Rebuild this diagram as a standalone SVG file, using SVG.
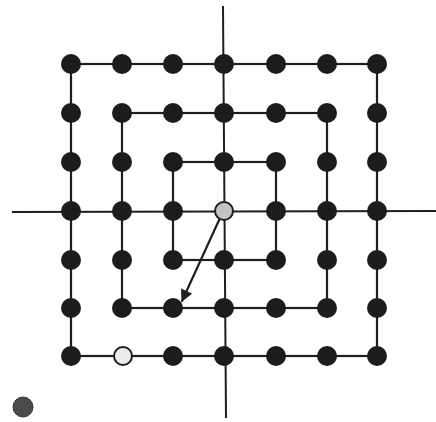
<svg xmlns="http://www.w3.org/2000/svg" width="436" height="422" viewBox="0 0 436 422">
<defs>
<style>
.ln{stroke:#1e1e1e;stroke-width:2.2;fill:none;stroke-linecap:round}
.ax{stroke:#1e1e1e;stroke-width:2;fill:none}
.n{fill:#1c1c1c}
.c{fill:#c4c4c4;stroke:#1e1e1e;stroke-width:2}
.w{fill:#ececec;stroke:#1e1e1e;stroke-width:2}
</style>
<marker id="ah" viewBox="0 0 10 10" refX="9" refY="5" markerWidth="6.5" markerHeight="5.5" orient="auto" markerUnits="strokeWidth">
<path d="M0,0 L10,5 L0,10 z" fill="#1e1e1e"/>
</marker>
</defs>
<rect width="436" height="422" fill="#ffffff"/>
<g id="connectors">
<line class="ax" x1="223" y1="6" x2="226" y2="418"/>
<line class="ax" x1="12" y1="212" x2="436" y2="211"/>
<rect class="ln" x="71" y="64" width="306" height="292"/>
<rect class="ln" x="122" y="113" width="205" height="195"/>
<rect class="ln" x="173" y="162" width="103" height="98"/>
<line class="ln" x1="220" y1="218" x2="182" y2="301" marker-end="url(#ah)"/>
</g>
<g id="nodes">
<g id="r0">
<circle class="n" cx="71" cy="64" r="10"/><circle class="n" cx="122" cy="64" r="10"/><circle class="n" cx="173" cy="64" r="10"/><circle class="n" cx="224" cy="64" r="10"/><circle class="n" cx="276" cy="64" r="10"/><circle class="n" cx="327" cy="64" r="10"/><circle class="n" cx="377" cy="64" r="10"/>
</g>
<g id="r1">
<circle class="n" cx="71" cy="113" r="10"/><circle class="n" cx="122" cy="113" r="10"/><circle class="n" cx="173" cy="113" r="10"/><circle class="n" cx="224" cy="113" r="10"/><circle class="n" cx="276" cy="113" r="10"/><circle class="n" cx="327" cy="113" r="10"/><circle class="n" cx="377" cy="113" r="10"/>
</g>
<g id="r2">
<circle class="n" cx="71" cy="162" r="10"/><circle class="n" cx="122" cy="162" r="10"/><circle class="n" cx="173" cy="162" r="10"/><circle class="n" cx="224" cy="162" r="10"/><circle class="n" cx="276" cy="162" r="10"/><circle class="n" cx="327" cy="162" r="10"/><circle class="n" cx="377" cy="162" r="10"/>
</g>
<g id="r3">
<circle class="n" cx="71" cy="211" r="10"/><circle class="n" cx="122" cy="211" r="10"/><circle class="n" cx="173" cy="211" r="10"/><circle id="center" class="c" cx="224" cy="211" r="9"/><circle class="n" cx="276" cy="211" r="10"/><circle class="n" cx="327" cy="211" r="10"/><circle class="n" cx="377" cy="211" r="10"/>
</g>
<g id="r4">
<circle class="n" cx="71" cy="260" r="10"/><circle class="n" cx="122" cy="260" r="10"/><circle class="n" cx="173" cy="260" r="10"/><circle class="n" cx="224" cy="260" r="10"/><circle class="n" cx="276" cy="260" r="10"/><circle class="n" cx="327" cy="260" r="10"/><circle class="n" cx="377" cy="260" r="10"/>
</g>
<g id="r5">
<circle class="n" cx="71" cy="308" r="10"/><circle class="n" cx="122" cy="308" r="10"/><circle class="n" cx="173" cy="308" r="10"/><circle class="n" cx="224" cy="308" r="10"/><circle class="n" cx="276" cy="308" r="10"/><circle class="n" cx="327" cy="308" r="10"/><circle class="n" cx="377" cy="308" r="10"/>
</g>
<g id="r6">
<circle class="n" cx="71" cy="356" r="10"/><circle class="w" cx="123" cy="356" r="9"/><circle class="n" cx="173" cy="356" r="10"/><circle class="n" cx="224" cy="356" r="10"/><circle class="n" cx="276" cy="356" r="10"/><circle class="n" cx="327" cy="356" r="10"/><circle class="n" cx="377" cy="356" r="10"/>
</g>
<g id="legend">
<circle cx="23" cy="407" r="10" fill="#4a4a4a" stroke="#333" stroke-width="1"/>
</g>
</g>
</svg>
